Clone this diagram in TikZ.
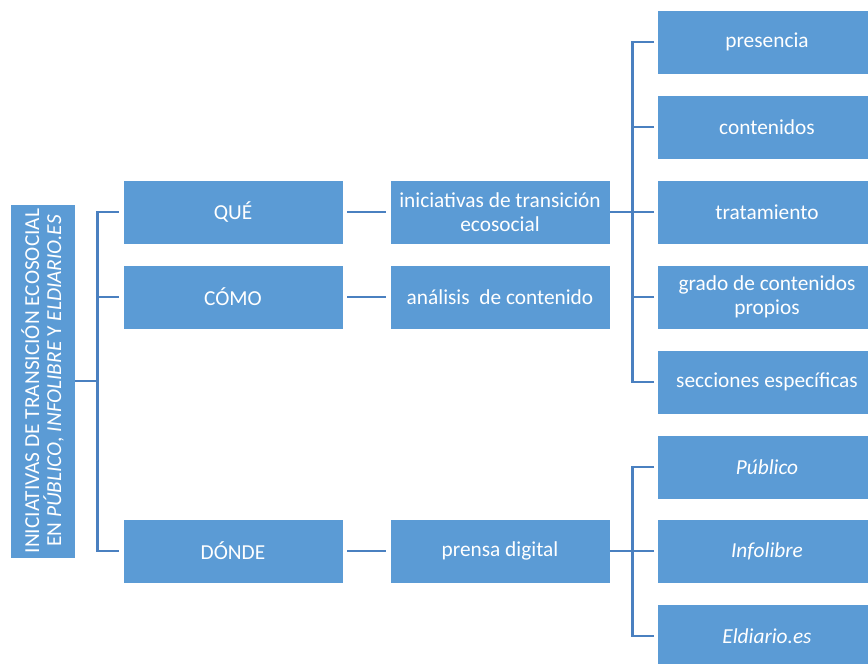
\documentclass[tikz,border=0pt]{standalone}
\usepackage{fontspec}
\setmainfont{Carlito}
\usepackage{tikz}
\usetikzlibrary{calc}

\definecolor{boxblue}{HTML}{5B9BD5}
\definecolor{lineblue}{HTML}{4A80C0}

\begin{document}
\begin{tikzpicture}[x=0.75pt,y=-0.75pt]
    \tikzstyle{item box}=[rectangle,fill=boxblue,draw=white,line width=0.4pt,text=white,
        minimum width=165pt,minimum height=48pt,align=center,inner sep=2pt,font=\fontsize{16}{18}\selectfont]
    \tikzstyle{root box}=[item box,rotate=90,minimum width=265.5pt,minimum height=48.75pt,
        font=\fontsize{16}{16.5}\selectfont]
    \tikzstyle{conn}=[draw=lineblue,line width=2.2pt]

    \useasboundingbox (0,0) rectangle (868,664);

    % left column
    \node(root)[root box] at (42.5,381){INICIATIVAS DE TRANSICIÓN ECOSOCIAL\\EN \textit{PÚBLICO}, \textit{INFOLIBRE} Y \textit{ELDIARIO.ES}};

    % preguntas
    \node(que)[item box] at (233,212){QUÉ};
    \node(como)[item box] at (233,297){CÓMO};
    \node(donde)[item box] at (233,551){DÓNDE};

    % respuestas
    \node(inic)[item box] at (500,212){iniciativas de transición\\ecosocial};
    \node(analisis)[item box] at (500,297){análisis\ \ de contenido};
    \node(prensa)[item box] at (500,551){prensa digital};

    % aspectos
    \node(pres)[item box] at (767,42){presencia};
    \node(cont)[item box] at (767,127){contenidos};
    \node(trat)[item box] at (767,212){tratamiento};
    \node(grado)[item box] at (767,297){grado de contenidos\\propios};
    \node(secc)[item box] at (767,382){secciones específicas};

    % medios
    \node(pub)[item box] at (767,467){\textit{Público}};
    \node(info)[item box] at (767,551){\textit{Infolibre}};
    \node(eldi)[item box] at (767,636){\textit{Eldiario.es}};

    \foreach \n in {que,como,donde}
        \draw[conn,shorten <=3pt] (\n.west) -- ++(-25,0) |- (root.south);

    \draw[conn,shorten <=3pt,shorten >=3pt] (que) -- (inic);
    \draw[conn,shorten <=3pt,shorten >=3pt] (como) -- (analisis);
    \draw[conn,shorten <=3pt,shorten >=3pt] (donde) -- (prensa);

    \foreach \n in {pres,cont,trat,grado,secc}
        \draw[conn,shorten <=2pt] (\n.west) -- ++(-24,0) |- (inic.east);
    \foreach \n in {pub,info,eldi}
        \draw[conn,shorten <=2pt] (\n.west) -- ++(-24,0) |- (prensa.east);
\end{tikzpicture}
\end{document}
